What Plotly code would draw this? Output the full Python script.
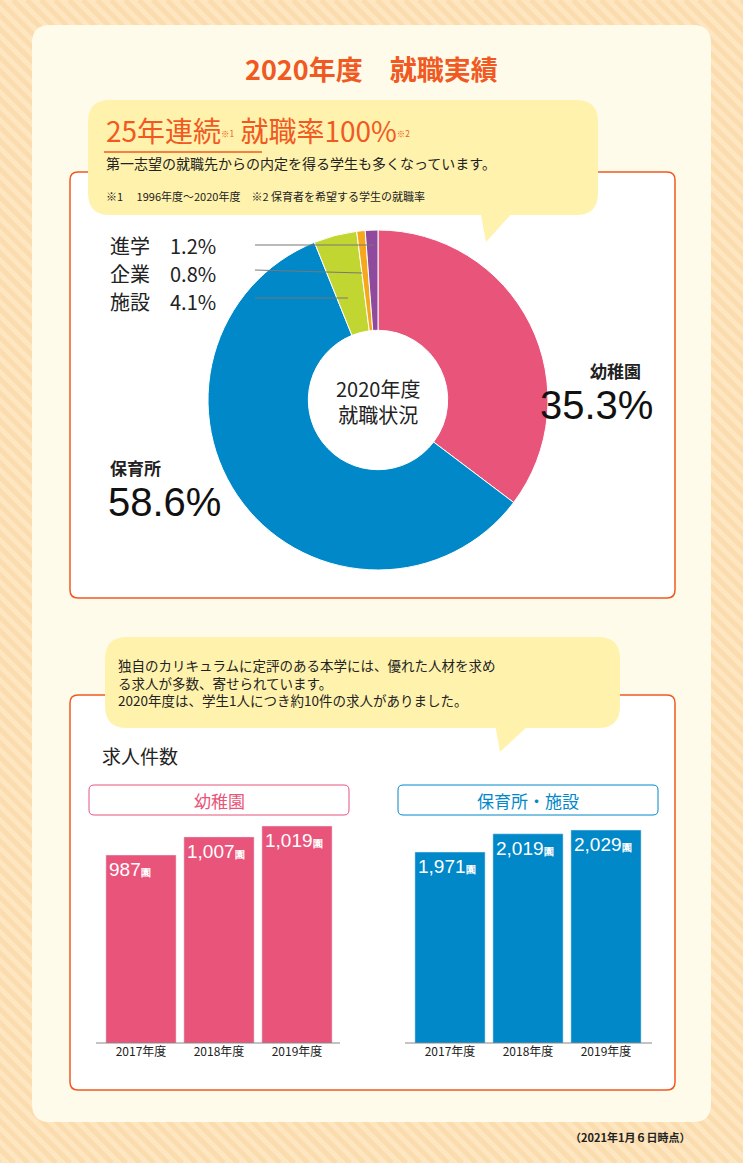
import plotly.graph_objects as go

W, H = 743, 1163
pie_labels = ["幼稚園", "保育所", "施設", "企業", "進学"]
pie_values = [35.3, 58.6, 4.1, 0.8, 1.2]
pie_colors = ["#e8547a", "#0088c9", "#c2d631", "#f6a81c", "#8f4a9d"]

years = ["2017年度", "2018年度", "2019年度"]
kinder = [987, 1007, 1019]
nursery = [1971, 2019, 2029]

JP = "Noto Sans CJK JP"
ORANGE = "#f05a22"

def px(x): return x / W
def py(y): return 1 - y / H

def rrect(x0, y0, x1, y1, r):
    return (f"M{px(x0+r)},{py(y0)} L{px(x1-r)},{py(y0)} Q{px(x1)},{py(y0)} {px(x1)},{py(y0+r)} "
            f"L{px(x1)},{py(y1-r)} Q{px(x1)},{py(y1)} {px(x1-r)},{py(y1)} L{px(x0+r)},{py(y1)} "
            f"Q{px(x0)},{py(y1)} {px(x0)},{py(y1-r)} L{px(x0)},{py(y0+r)} Q{px(x0)},{py(y0)} {px(x0+r)},{py(y0)} Z")

shapes = []
for k in range(-H, W + H, 14):
    shapes.append(dict(type="line", xref="paper", yref="paper", x0=px(k), y0=py(0), x1=px(k + H), y1=py(H),
                       line=dict(color="#fbdcae", width=5), layer="below"))
shapes.append(dict(type="path", xref="paper", yref="paper", path=rrect(32, 25, 711, 1122, 18),
                   fillcolor="#fffbea", line=dict(width=0), layer="below"))
for (y0, y1) in [(172, 598), (695, 1090)]:
    shapes.append(dict(type="path", xref="paper", yref="paper", path=rrect(70, y0, 675, y1, 8),
                       fillcolor="white", line=dict(color=ORANGE, width=1.5), layer="below"))
BUB = "#fff2ac"
shapes.append(dict(type="path", xref="paper", yref="paper", path=rrect(88, 100, 598, 215, 22),
                   fillcolor=BUB, line=dict(width=0), layer="below"))
shapes.append(dict(type="path", xref="paper", yref="paper",
                   path=f"M{px(480)},{py(210)} L{px(486)},{py(242)} L{px(515)},{py(210)} Z",
                   fillcolor=BUB, line=dict(width=0), layer="below"))
shapes.append(dict(type="path", xref="paper", yref="paper", path=rrect(105, 637, 620, 728, 22),
                   fillcolor=BUB, line=dict(width=0), layer="below"))
shapes.append(dict(type="path", xref="paper", yref="paper",
                   path=f"M{px(495)},{py(724)} L{px(500)},{py(752)} L{px(530)},{py(724)} Z",
                   fillcolor=BUB, line=dict(width=0), layer="below"))
shapes.append(dict(type="line", xref="paper", yref="paper", x0=px(104), y0=py(152), x1=px(262), y1=py(152),
                   line=dict(color=ORANGE, width=1.5)))
for (y0, x1, y1) in [(245, 374, 245), (270, 362, 273), (298, 348, 298)]:
    shapes.append(dict(type="line", xref="paper", yref="paper", x0=px(255), y0=py(y0), x1=px(x1), y1=py(y1),
                       line=dict(color="#777", width=1)))
for (x0, x1, c) in [(89, 349, "#e8547a"), (398, 658, "#0088c9")]:
    shapes.append(dict(type="path", xref="paper", yref="paper", path=rrect(x0, 785, x1, 815, 5),
                       fillcolor="white", line=dict(color=c, width=1)))
for (x0, x1) in [(96, 340), (405, 652)]:
    shapes.append(dict(type="line", xref="paper", yref="paper", x0=px(x0), y0=py(1043), x1=px(x1), y1=py(1043),
                       line=dict(color="#888", width=1)))

fig = go.Figure()
R = 170
fig.add_trace(go.Pie(labels=pie_labels, values=pie_values, marker=dict(colors=pie_colors, line=dict(color="white", width=1)),
                     hole=0.41, sort=False, direction="clockwise", rotation=0, textinfo="none", showlegend=False,
                     domain=dict(x=[px(378 - R), px(378 + R)], y=[py(400 + R), py(400 - R)])))

fig.add_trace(go.Bar(x=years, y=kinder, marker=dict(color="#e8547a"), xaxis="x", yaxis="y", showlegend=False))
fig.add_trace(go.Bar(x=years, y=nursery, marker=dict(color="#0088c9"), xaxis="x2", yaxis="y2", showlegend=False))

ann = []
def t(x, y, s, size, color="#222", font=JP, xa="left", ya="middle"):
    ann.append(dict(x=px(x), y=py(y), xref="paper", yref="paper", text=s, showarrow=False, align=xa,
                    font=dict(size=size, color=color, family=font), xanchor=xa, yanchor=ya))

t(371, 68, "<b>2020年度　就職実績</b>", 27, ORANGE, xa="center")
t(104, 130, "25年連続<span style='font-size:12px'><sup>※1</sup></span> 就職率100%<span style='font-size:12px'><sup>※2</sup></span>", 28, ORANGE)
t(104, 163, "第一志望の就職先からの内定を得る学生も多くなっています。", 14)
t(104, 196, "※1　 1996年度〜2020年度　※2 保育者を希望する学生の就職率", 11)
t(108, 245, "進学　1.2%", 20)
t(108, 273, "企業　0.8%", 20)
t(108, 301, "施設　4.1%", 20)
t(588, 370, "<b>幼稚園</b>", 17)
t(538, 405, "35.3%", 40, "#111", "Liberation Sans")
t(108, 467, "<b>保育所</b>", 17)
t(106, 502, "58.6%", 40, "#111", "Liberation Sans")
t(378, 402, "2020年度<br>就職状況", 20, "#222", xa="center")
t(116, 682, "独自のカリキュラムに定評のある本学には、優れた人材を求め<br>る求人が多数、寄せられています。<br>2020年度は、学生1人につき約10件の求人がありました。", 13.5)
t(100, 755, "求人件数", 19)
t(219, 800, "幼稚園", 17, "#e8547a", xa="center")
t(528, 800, "保育所・施設", 17, "#0088c9", xa="center")
t(692, 1137, "<b>（2021年1月６日時点）</b>", 11, "#222", xa="right")

for xa, ya, vals in [("x", "y", kinder), ("x2", "y2", nursery)]:
    for yr, v in zip(years, vals):
        ann.append(dict(x=yr, y=v, xref=xa, yref=ya, xshift=-34, yshift=-2, xanchor="left", yanchor="top",
                        showarrow=False, text=f"{v:,}<span style='font-size:10px'><b>園</b></span>",
                        font=dict(size=19, color="white", family="Liberation Sans")))

ax = dict(showgrid=False, zeroline=False, showline=False, ticks="", tickfont=dict(size=12, family=JP, color="#222"))
fig.update_layout(
    width=W, height=H, margin=dict(l=0, r=0, t=0, b=0), paper_bgcolor="#fde6c0", plot_bgcolor="rgba(0,0,0,0)",
    shapes=shapes, annotations=ann, bargap=0.1,
    xaxis=dict(domain=[px(102), px(336)], range=[-0.5, 2.5], anchor="y", **ax),
    yaxis=dict(domain=[py(1043), py(800)], range=[779.5, 1047.7], visible=False),
    xaxis2=dict(domain=[px(411), px(645)], range=[-0.5, 2.5], anchor="y2", **ax),
    yaxis2=dict(domain=[py(1043), py(800)], range=[1468, 2108], visible=False),
)
fig.write_html("out.html", config={"displayModeBar": False},
               post_script="document.body.style.margin='0';document.body.style.overflow='hidden';")
